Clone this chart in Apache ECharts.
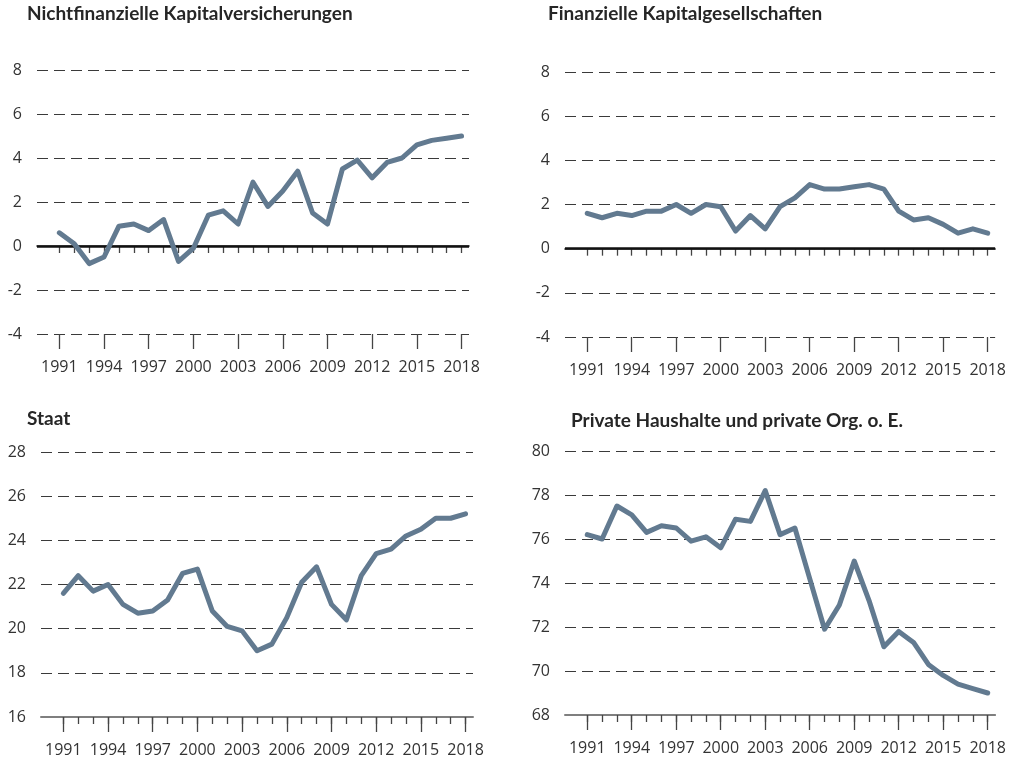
<!DOCTYPE html>
<html>
<head>
<meta charset="utf-8">
<script src="https://cdn.jsdelivr.net/npm/echarts@6/dist/echarts.min.js"></script>
<style>
html,body{margin:0;padding:0;background:#fff;}
#chart{width:1009px;height:765px;}
</style>
</head>
<body>
<div id="chart"></div>
<script>
// ---- data ----
const years = [1991,1992,1993,1994,1995,1996,1997,1998,1999,2000,2001,2002,2003,2004,2005,2006,2007,2008,2009,2010,2011,2012,2013,2014,2015,2016,2017,2018];
const labelYears = [1991,1994,1997,2000,2003,2006,2009,2012,2015,2018];

const titles = ['Nichtfinanzielle Kapitalversicherungen','Finanzielle Kapitalgesellschaften','Staat','Private Haushalte und private Org. o. E.'];

const nichtfinanzielle = [0.6,0.1,-0.8,-0.5,0.9,1.0,0.7,1.2,-0.7,-0.1,1.4,1.6,1.0,2.9,1.8,2.5,3.4,1.5,1.0,3.5,3.9,3.1,3.8,4.0,4.6,4.8,4.9,5.0];
const finanzielle = [1.6,1.4,1.6,1.5,1.7,1.7,2.0,1.6,2.0,1.9,0.8,1.5,0.9,1.9,2.3,2.9,2.7,2.7,2.8,2.9,2.7,1.7,1.3,1.4,1.1,0.7,0.9,0.7];
const staat = [21.6,22.4,21.7,22.0,21.1,20.7,20.8,21.3,22.5,22.7,20.8,20.1,19.9,19.0,19.3,20.5,22.1,22.8,21.1,20.4,22.4,23.4,23.6,24.2,24.5,25.0,25.0,25.2];
const privat = [76.2,76.0,77.5,77.1,76.3,76.6,76.5,75.9,76.1,75.6,76.9,76.8,78.2,76.2,76.5,74.2,71.9,73.0,75.0,73.2,71.1,71.8,71.3,70.3,69.8,69.4,69.2,69.0];

const seriesData = [nichtfinanzielle, finanzielle, staat, privat];
const yRanges = [[-4,8,2],[-4,8,2],[16,28,2],[68,80,2]];
const zeroLine = [true,true,false,false];

// ---- layout ----
const grids = [
  {left:37, top:70, width:432, height:264},
  {left:565, top:72, width:432, height:265},
  {left:41, top:452, width:432, height:265},
  {left:565, top:451, width:432, height:264}
];
const titlePos = [[27,4],[548,4],[27,409],[571,411]];

const TITLE_FONT = 'Lato';
const FONT = 'Open Sans';
const lineColor = '#627a90';
const textColor = '#333333';

const option = {
  animation:false,
  backgroundColor:'#ffffff',
  title: titles.map((t,i)=>({
    text:t, left:titlePos[i][0], top:titlePos[i][1], padding:0,
    textStyle:{fontFamily:TITLE_FONT,fontSize:19,fontWeight:'bold',color:'#262626'}
  })),
  grid: grids.map(g=>Object.assign({containLabel:false},g)),
  xAxis: [],
  yAxis: [],
  series: []
};

grids.forEach((g,i)=>{
  // minor ticks + axis line
  option.xAxis.push({
    type:'value', gridIndex:i, min:1989.5, max:2018.5, position:'bottom',
    axisLine:{show:true,lineStyle:{color:'#7f7f7f',width:2}},
    axisTick:{show:true,customValues:years,length:7,lineStyle:{color:'#444',width:1.3}},
    axisLabel:{show:false},
    splitLine:{show:false}
  });
  // major ticks + labels
  option.xAxis.push({
    type:'value', gridIndex:i, min:1989.5, max:2018.5, position:'bottom',
    axisLine:{show:false},
    axisTick:{show:true,customValues:labelYears,length:15,lineStyle:{color:'#444',width:1.3}},
    axisLabel:{show:true,customValues:labelYears,margin:25,fontFamily:FONT,fontSize:16,color:textColor,
      formatter:v=>String(v)},
    splitLine:{show:false}
  });
  const r = yRanges[i];
  option.yAxis.push({
    type:'value', gridIndex:i, min:r[0], max:r[1], interval:r[2],
    axisLine:{show:false}, axisTick:{show:false},
    axisLabel:{margin:15,fontFamily:FONT,fontSize:16,color:textColor},
    splitLine:{show:true,lineStyle:{type:[11,6],color:'#3a3a3a',width:1.2}}
  });
  const s = {
    type:'line', xAxisIndex:2*i+1, yAxisIndex:i,
    data: years.map((y,k)=>[y,seriesData[i][k]]),
    symbol:'none', silent:true,
    lineStyle:{color:lineColor,width:5,join:'round',cap:'round'},
    z:5
  };
  option.series.push(s);
  if (zeroLine[i]) {
    option.series.push({
      type:'line', xAxisIndex:2*i+1, yAxisIndex:i, data:[], silent:true, z:3,
      markLine:{silent:true,symbol:'none',label:{show:false},
        lineStyle:{color:'#111',width:2.5,type:'solid'},
        data:[{yAxis:0}]}
    });
  }
});

const chart = echarts.init(document.getElementById('chart'),null,{renderer:'canvas'});
chart.setOption(option);
</script>
</body>
</html>
